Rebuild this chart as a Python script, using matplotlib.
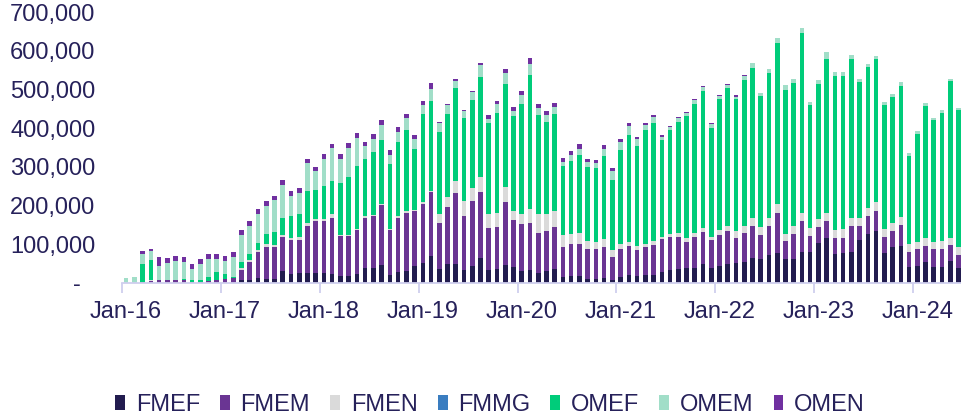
import numpy as np
import pandas as pd
import matplotlib
matplotlib.use("Agg")
import matplotlib.pyplot as plt
from matplotlib.ticker import FuncFormatter
from matplotlib.transforms import ScaledTranslation

plt.rcParams['font.family'] = ['Liberation Sans', 'DejaVu Sans']

# monthly volumes (thousands), Jan-16 .. Jun-24
months = pd.date_range('2016-01-01', '2024-06-01', freq='MS').strftime('%b-%y').tolist()

fmef = [0, 0, 0, 0, 0, 0, 0, 0, 0, 0, 0, 0,
        0, 0, 8, 9, 14, 11, 11, 32, 22, 27, 27, 25,
        25, 23, 19, 19, 22, 40, 40, 46, 21, 29, 32, 45,
        51, 71, 36, 49, 49, 34, 45, 65, 34, 36, 47, 42,
        32, 34, 27, 32, 35, 15, 18, 18, 10, 10, 14, 9,
        16, 21, 19, 21, 21, 29, 34, 35, 38, 40, 49, 40,
        45, 48, 51, 55, 64, 61, 72, 78, 62, 62, 81, 81,
        104, 116, 75, 78, 81, 112, 126, 135, 78, 94, 96, 42,
        45, 54, 42, 42, 56, 40]
fmem = [0, 0, 3, 5, 8, 8, 8, 8, 3, 3, 5, 7,
        10, 12, 25, 45, 65, 83, 83, 86, 88, 85, 121, 135,
        136, 146, 103, 103, 114, 129, 133, 155, 115, 140, 150, 141,
        154, 163, 118, 148, 183, 138, 167, 169, 109, 109, 163, 121,
        121, 122, 103, 103, 110, 79, 82, 84, 77, 77, 78, 59,
        72, 75, 67, 71, 77, 84, 84, 84, 69, 80, 84, 72,
        80, 86, 66, 73, 82, 63, 75, 104, 46, 65, 78, 40,
        41, 44, 40, 39, 65, 35, 47, 52, 41, 41, 54, 39,
        43, 41, 45, 46, 41, 33]
fmen = [0, 0, 0, 2, 0, 0, 0, 0, 0, 0, 0, 0,
        0, 0, 5, 5, 6, 6, 4, 6, 6, 8, 8, 5,
        4, 9, 3, 3, 3, 3, 3, 3, 3, 3, 3, 3,
        3, 3, 24, 26, 32, 39, 33, 39, 35, 35, 37, 23,
        26, 34, 47, 42, 41, 29, 26, 26, 21, 19, 22, 16,
        12, 11, 10, 10, 11, 7, 8, 10, 9, 9, 9, 7,
        12, 12, 17, 19, 22, 20, 20, 22, 18, 19, 22, 20,
        20, 20, 22, 22, 22, 20, 22, 22, 20, 21, 20, 19,
        19, 20, 19, 20, 20, 20]
fmmg = [0] * 102
omef = [0, 0, 47, 52, 0, 0, 0, 2, 4, 6, 11, 21,
        12, 4, 16, 17, 19, 26, 34, 43, 56, 59, 82, 75,
        85, 85, 133, 150, 162, 148, 162, 165, 168, 191, 211, 158,
        229, 233, 213, 214, 239, 214, 227, 260, 234, 258, 268, 245,
        283, 346, 258, 239, 250, 180, 190, 202, 191, 192, 213, 183,
        243, 276, 258, 292, 303, 250, 268, 286, 316, 334, 354, 282,
        338, 357, 340, 377, 388, 338, 375, 415, 373, 370, 465, 320,
        349, 399, 398, 395, 411, 352, 362, 370, 320, 325, 339, 229,
        277, 342, 314, 332, 404, 353]
omem = [12, 15, 26, 24, 37, 43, 50, 43, 28, 40, 46, 34,
        35, 50, 70, 71, 75, 74, 82, 86, 53, 54, 71, 49,
        71, 86, 63, 74, 74, 34, 34, 40, 24, 27, 29, 24,
        22, 30, 21, 22, 20, 19, 22, 31, 12, 24, 28, 14,
        24, 30, 18, 17, 19, 9, 14, 16, 13, 11, 20, 22,
        22, 23, 18, 14, 17, 8, 9, 10, 7, 9, 9, 9,
        9, 8, 7, 11, 12, 10, 10, 13, 12, 11, 13, 7,
        10, 17, 10, 12, 10, 7, 8, 8, 8, 7, 9, 6,
        9, 7, 6, 6, 7, 6]
omen = [0, 0, 6, 6, 21, 13, 12, 14, 13, 13, 13, 13,
        12, 13, 13, 13, 12, 11, 12, 13, 12, 13, 12, 11,
        11, 11, 12, 12, 12, 11, 12, 11, 12, 12, 12, 12,
        12, 17, 4, 3, 3, 3, 3, 3, 9, 9, 10, 10,
        9, 14, 10, 11, 11, 11, 11, 12, 9, 9, 10, 7,
        7, 6, 5, 5, 5, 3, 3, 3, 3, 3, 4, 3,
        2, 2, 4, 1, 0, 0, 0, 0, 0, 0, 0, 0,
        0, 0, 0, 0, 0, 0, 0, 0, 0, 0, 0, 0,
        0, 0, 0, 0, 0, 0]

series = [
    ('FMEF', fmef, '#221c4f'),
    ('FMEM', fmem, '#6a3593'),
    ('FMEN', fmen, '#dadada'),
    ('FMMG', fmmg, '#3a7dc0'),
    ('OMEF', omef, '#00cc7a'),
    ('OMEM', omem, '#a1dec8'),
    ('OMEN', omen, '#7030a0'),
]

text_col = '#26215a'
axis_col = '#cfcfee'

fig, ax = plt.subplots(figsize=(9.61, 4.15), dpi=100)
fig.subplots_adjust(left=122 / 961, right=1.0, bottom=1 - 283 / 415, top=1 - 12 / 415)

x = np.arange(len(months))
bottom = np.zeros(len(months))
for name, vals, color in series:
    vals = np.array(vals, dtype=float) * 1000
    ax.bar(x, vals, 0.56, bottom=bottom, color=color, label=name, linewidth=0)
    bottom += vals

ax.set_xlim(-0.5, 101.3)
ax.set_ylim(0, 700000)

for s in ['top', 'right', 'left']:
    ax.spines[s].set_visible(False)
ax.spines['bottom'].set_color(axis_col)
ax.spines['bottom'].set_linewidth(1.3)

# y axis
ax.set_yticks(np.arange(0, 700001, 100000))
ax.yaxis.set_major_formatter(FuncFormatter(lambda v, p: '-' if v == 0 else f'{v:,.0f}'))
ax.tick_params(axis='y', length=0, pad=19, labelsize=17, labelcolor=text_col)
zero_lbl = ax.get_yticklabels()[0]
zero_lbl.set_transform(zero_lbl.get_transform() + ScaledTranslation(-0.15, 0, fig.dpi_scale_trans))

# x axis: tick marks between years, labels on January
ax.set_xticks(np.arange(-0.5, len(months), 12))
ax.set_xticklabels([])
ax.set_xticks(x[::12], minor=True)
ax.set_xticklabels(months[::12], minor=True)
ax.tick_params(axis='x', which='major', length=7, width=1.3, color=axis_col)
ax.tick_params(axis='x', which='minor', length=0, pad=13, labelsize=17, labelcolor=text_col)

fig.legend(loc='center', bbox_to_anchor=(490 / 961, 1 - 405 / 415), ncol=7, frameon=False,
           fontsize=17, labelcolor=text_col, handlelength=0.42, handleheight=0.62,
           handletextpad=0.45, columnspacing=0.85)

fig.savefig('out.png', dpi=100)
